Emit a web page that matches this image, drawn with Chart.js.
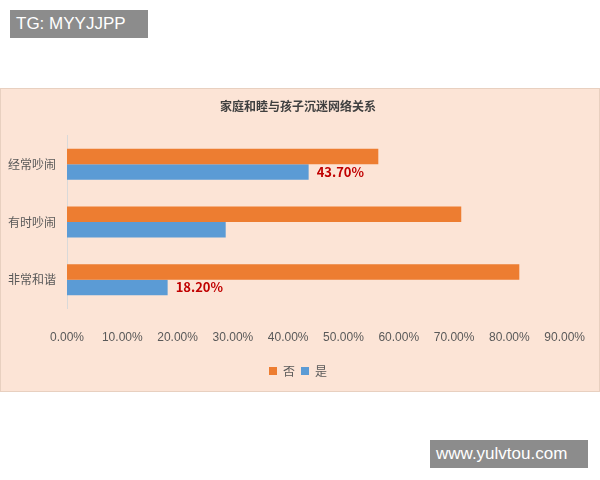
<!DOCTYPE html>
<html><head><meta charset="utf-8">
<script src="https://cdn.jsdelivr.net/npm/chart.js@4"></script>
<style>
body{margin:0;background:#fff;width:600px;height:480px;position:relative;font-family:"Noto Sans CJK SC",sans-serif;}
#wrap{position:absolute;left:0;top:88px;width:598px;height:302px;background:#fce4d6;border:1px solid #e8d0c0;}
.wm{position:absolute;background:#8c8c8c;color:#fff;font-family:"Liberation Sans",sans-serif;font-size:17px;padding:4px 6px;}
</style></head><body>
<div class="wm" style="left:10px;top:10px;width:126px;">TG: MYYJJPP</div>
<div id="wrap"><canvas id="c" width="598" height="302"></canvas></div>
<div class="wm" style="left:430px;top:440px;width:146px;">www.yulvtou.com</div>
<script>
const categories=["经常吵闹","有时吵闹","非常和谐"];
const noValues=[56.3,71.3,81.8];
const yesValues=[43.7,28.7,18.2];
const labelShown=[true,false,true];
const ticks=[0,10,20,30,40,50,60,70,80,90];
const labelPlugin={id:'lbl',afterDatasetsDraw(ch){
  const ctx=ch.ctx;const meta=ch.getDatasetMeta(1);
  ctx.save();ctx.fillStyle='#c00000';ctx.font='bold 13px "Noto Sans CJK SC"';ctx.textBaseline='middle';
  meta.data.forEach((b,i)=>{if(labelShown[i])ctx.fillText(yesValues[i].toFixed(2)+'%',b.x+8,b.y);});
  ctx.restore();}};
new Chart(document.getElementById('c'),{type:'bar',
data:{labels:categories,datasets:[
 {label:'否',data:noValues,backgroundColor:'#ed7d31',barPercentage:1,categoryPercentage:0.54},
 {label:'是',data:yesValues,backgroundColor:'#5b9bd5',barPercentage:1,categoryPercentage:0.54}]},
options:{indexAxis:'y',responsive:false,animation:false,
 layout:{padding:{left:4,right:8,top:0,bottom:4}},
 plugins:{title:{display:true,text:'家庭和睦与孩子沉迷网络关系',color:'#404040',font:{size:12,weight:'bold',family:'Noto Sans CJK SC'},padding:{top:10,bottom:22}},
  legend:{position:'bottom',labels:{boxWidth:8,boxHeight:8,color:'#595959',font:{size:12,family:'Noto Sans CJK SC'},padding:6}},
  tooltip:{enabled:false}},
 scales:{x:{min:0,max:90,afterBuildTicks(a){a.ticks=ticks.map(v=>({value:v}));},
   ticks:{callback:v=>v.toFixed(2)+'%',color:'#595959',font:{size:12,family:'Liberation Sans'},padding:14},
   grid:{display:false},border:{display:false}},
  y:{ticks:{color:'#595959',font:{size:12,family:'Noto Sans CJK SC'}},grid:{display:false},border:{color:'#d9d9d9'}}}},
plugins:[labelPlugin]});
</script></body></html>
